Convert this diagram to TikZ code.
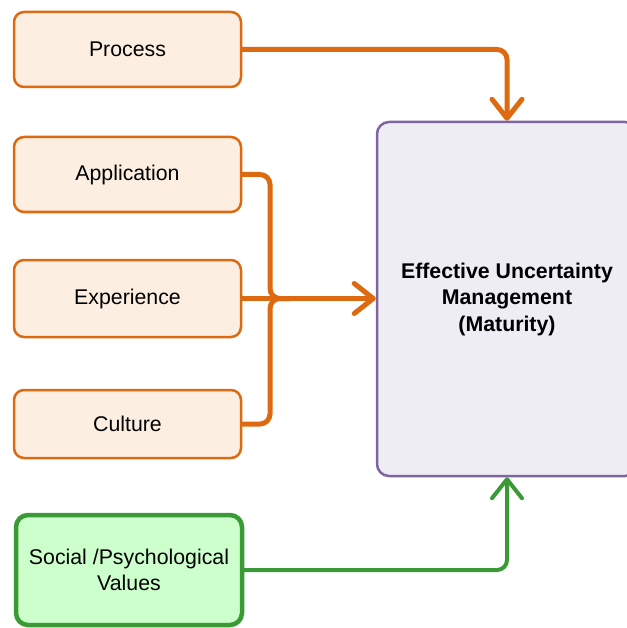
\documentclass[tikz,border=0pt]{standalone}
\usepackage{fontspec}
\setmainfont{Liberation Sans}
\usetikzlibrary{arrows.meta}
\definecolor{orng}{HTML}{DD6A10}
\definecolor{orngfill}{HTML}{FDEEE2}
\definecolor{purp}{HTML}{7F659F}
\definecolor{purpfill}{HTML}{EFEDF4}
\definecolor{grn}{HTML}{3A9A35}
\definecolor{grnfill}{HTML}{CCFFCC}
\begin{document}
\begin{tikzpicture}[x=1pt,y=-1pt,
  smallbox/.style={draw=orng, fill=orngfill, line width=2.5pt, rounded corners=10pt,
    minimum width=227pt, font=\fontsize{21.3}{26}\selectfont, align=center, inner sep=0pt},
  bigbox/.style={draw=purp, fill=purpfill, line width=2.5pt, rounded corners=12pt,
    minimum width=260pt, minimum height=354pt, font=\fontsize{21.3}{26.5}\selectfont\bfseries, align=center},
  greenbox/.style={draw=grn, fill=grnfill, line width=4.5pt, rounded corners=12pt,
    minimum width=226pt, minimum height=110pt, font=\fontsize{21.3}{26}\selectfont, align=center},
  conn/.style={draw=orng, line width=5pt, rounded corners=10pt, line cap=round},
  gconn/.style={draw=grn, line width=4pt, rounded corners=10pt, line cap=round},
  tip/.style={-{Straight Barb[length=19pt,width=30pt,round]}}
]
\useasboundingbox (0,0) rectangle (626,628);
\node[smallbox, minimum height=75pt] (proc) at (127.5,49.5) {Process};
\node[smallbox, minimum height=75pt] (app) at (127.5,174.5) {Application};
\node[smallbox, minimum height=77pt] (exp) at (127.5,298.5) {Experience};
\node[smallbox, minimum height=68pt] (cult) at (127.5,424) {Culture};
\node[greenbox] (soc) at (129,570) {Social /Psychological\\Values};
\node[bigbox] (big) at (507,299) {Effective Uncertainty\\Management\\(Maturity)};
\coordinate (j) at (270,298.5);
\coordinate (jr) at (290,298.5);
\draw[conn, tip] (proc.east) -| (big.north);
\draw[conn] (app.east) -| (j) -- (jr);
\draw[conn] (cult.east) -| (j) -- (jr);
\draw[conn, tip] (exp.east) -- (exp.east -| big.west);
\draw[gconn, tip] (soc.east) -| (big.south);
\end{tikzpicture}
\end{document}
